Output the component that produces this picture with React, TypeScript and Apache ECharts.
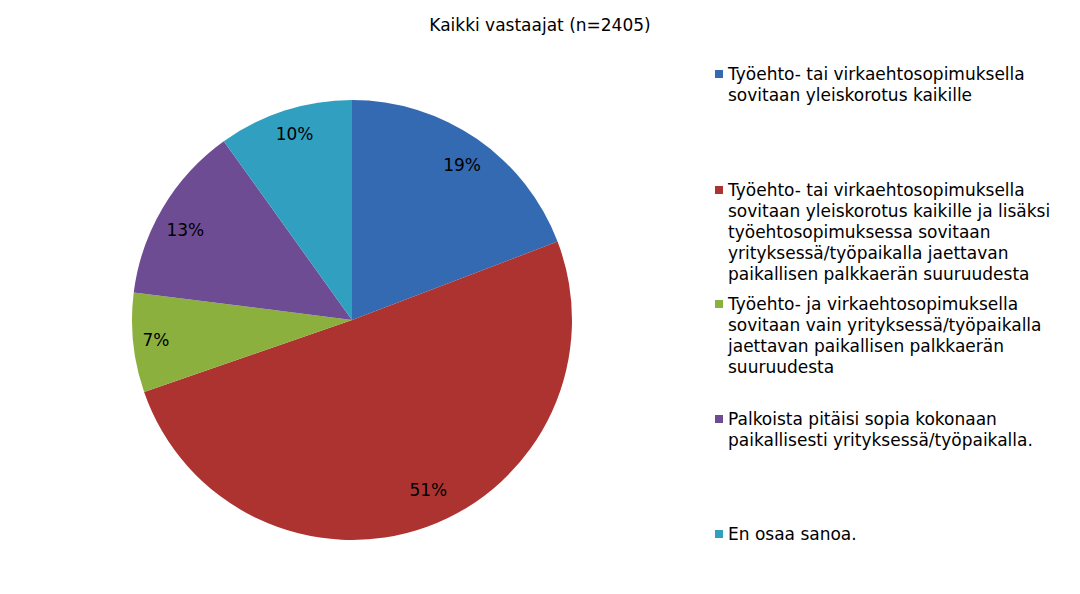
import React, { useEffect, useRef } from "react";
import * as echarts from "echarts";

const title = "Kaikki vastaajat (n=2405)";

const categories = [
  "Työehto- tai virkaehtosopimuksella\nsovitaan yleiskorotus kaikille",
  "Työehto- tai virkaehtosopimuksella\nsovitaan yleiskorotus kaikille ja lisäksi\ntyöehtosopimuksessa sovitaan\nyrityksessä/työpaikalla jaettavan\npaikallisen palkkaerän suuruudesta",
  "Työehto- ja virkaehtosopimuksella\nsovitaan vain yrityksessä/työpaikalla\njaettavan paikallisen palkkaerän\nsuuruudesta",
  "Palkoista pitäisi sopia kokonaan\npaikallisesti yrityksessä/työpaikalla.",
  "En osaa sanoa.",
];

const values = [19.2, 50.5, 7.3, 13.1, 9.9];

const colors = ["#346AB2", "#AD3331", "#8BB03E", "#6E4C93", "#319FC0"];

// first-line centre of each legend entry
const legendRows = [74, 190, 304, 419, 534];
// small nudges so the % labels sit where Excel put them
const labelOffsets = [[0, 5], [10, -12], [-3, 0], [0, 9], [2, -1]];

const FONT = "'DejaVu Sans', Verdana, sans-serif";
const FS = 17;
const LH = 21;

const App: React.FC = () => {
  const chartRef = useRef<HTMLDivElement>(null);

  useEffect(() => {
    if (!chartRef.current) return;
    const chart = echarts.init(chartRef.current, undefined, { renderer: "svg" });

    const pieData = categories.map((name, i) => ({
      name,
      value: values[i],
      itemStyle: { color: colors[i] },
    }));

    // legend text is centred on the marker; put empty lines above so the
    // first real line is the middle one
    const legends = categories.map((name, i) => {
      const n = name.split("\n").length;
      return {
        data: [name],
        orient: "vertical",
        left: 715,
        top: legendRows[i] - ((2 * n - 1) * LH) / 2,
        padding: 0,
        icon: "rect",
        itemWidth: 8,
        itemHeight: 8,
        selectedMode: false,
        formatter: (s: string) => " \n".repeat(n - 1) + s,
        textStyle: {
          fontFamily: FONT,
          fontSize: FS,
          lineHeight: LH,
          color: "#000",
        },
      };
    });

    chart.setOption({
      animation: false,
      backgroundColor: "#fff",
      title: {
        text: title,
        left: "center",
        top: 16,
        padding: 0,
        textStyle: { fontFamily: FONT, fontSize: FS, fontWeight: "normal", color: "#000" },
      },
      legend: legends,
      series: [
        {
          type: "pie",
          center: [352, 320],
          radius: 220,
          startAngle: 90,
          clockwise: true,
          label: { show: false },
          labelLine: { show: false },
          emphasis: { disabled: true },
          data: pieData,
        },
        {
          type: "pie",
          center: [352, 320],
          radius: [160, 222],
          startAngle: 90,
          clockwise: true,
          silent: true,
          percentPrecision: 0,
          avoidLabelOverlap: false,
          itemStyle: { color: "rgba(0,0,0,0)" },
          label: {
            show: true,
            position: "inside",
            formatter: "{d}%",
            fontFamily: FONT,
            fontSize: FS,
            color: "#000",
          },
          emphasis: { disabled: true },
          data: categories.map((name, i) => ({
            name,
            value: values[i],
            label: { offset: labelOffsets[i] },
          })),
        },
      ],
    });

    return () => {
      chart.dispose();
    };
  }, []);

  return (
    <div
      ref={chartRef}
      style={{ position: "fixed", left: 0, top: 0, width: 1080, height: 594 }}
    />
  );
};

export default App;
